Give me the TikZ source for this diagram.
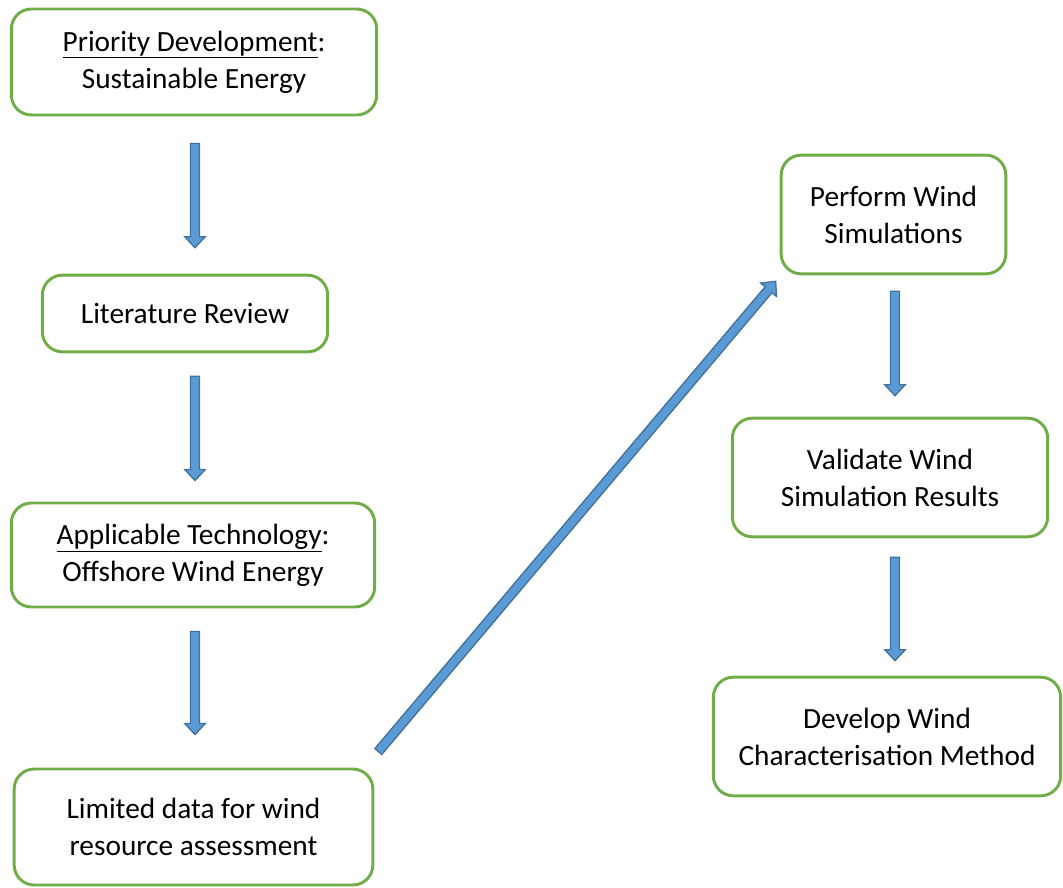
\documentclass[tikz,border=0pt]{standalone}
\usepackage{fontspec}
\setmainfont{Carlito}
\usetikzlibrary{calc}
\definecolor{boxgreen}{HTML}{70AD47}
\definecolor{arrowblue}{HTML}{5B9BD5}
\definecolor{arrowedge}{HTML}{41719C}
\newcommand\blockarrow[2]{% start, end
  \coordinate (h) at ($(#2)!8.25pt!(#1)$);
  \draw[flow] ($(#1)!3.4pt!90:(#2)$) -- ($(h)!3.4pt!90:(#2)$) -- ($(h)!7.7pt!90:(#2)$)
    -- (#2) -- ($(h)!7.7pt!-90:(#2)$) -- ($(h)!3.4pt!-90:(#2)$) -- ($(#1)!3.4pt!-90:(#2)$) -- cycle;
}
\tikzset{
  box/.style={draw=boxgreen, line width=2.2pt, rounded corners=15pt, align=center,
    inner sep=0pt, font=\fontsize{22}{27.75}\selectfont},
  flow/.style={draw=arrowedge, fill=arrowblue, line width=1pt, line join=miter}
}
\begin{document}
\begin{tikzpicture}[x=0.75pt,y=-0.75pt]
		\useasboundingbox (0,0) rectangle (1063,888);

		\node[box,minimum width=274pt,minimum height=79.5pt] (A) at (194,62) {\underline{Priority Development}:\\Sustainable Energy};
		\node[box,minimum width=214pt,minimum height=57.5pt] (B) at (185,313.5) {Literature Review};
		\node[box,minimum width=272.5pt,minimum height=78pt] (C) at (193,555) {\underline{Applicable Technology}:\\Offshore Wind Energy};
		\node[box,minimum width=269pt,minimum height=87pt] (D) at (193.5,827) {Limited data for wind\\resource assessment};
		\node[box,minimum width=168.5pt,minimum height=89pt] (E) at (893.5,214.5) {Perform Wind\\Simulations};
		\node[box,minimum width=236.5pt,minimum height=89pt] (F) at (890,477.5) {Validate Wind\\Simulation Results};
		\node[box,minimum width=260.5pt,minimum height=89pt] (G) at (887,736.5) {Develop Wind\\Characterisation Method};

		\coordinate (a1) at ($(A.south)+(1,27)$);
		\coordinate (a2) at ($(B.north)+(10,-26)$);
		\coordinate (b1) at ($(B.south)+(10,23)$);
		\coordinate (b2) at ($(C.north)+(2,-21)$);
		\coordinate (c1) at ($(C.south)+(2,23)$);
		\coordinate (c2) at ($(D.north)+(1.5,-33)$);
		\coordinate (d1) at ($(D.north east)+(4,-16)$);
		\coordinate (d2) at ($(E.south west)+(-4,6)$);
		\coordinate (e1) at ($(E.south)+(1.5,16)$);
		\coordinate (e2) at ($(F.north)+(5,-21)$);
		\coordinate (f1) at ($(F.south)+(5,19)$);
		\coordinate (f2) at ($(G.north)+(8,-15)$);

		\blockarrow{a1}{a2}
		\blockarrow{b1}{b2}
		\blockarrow{c1}{c2}
		\blockarrow{d1}{d2}
		\blockarrow{e1}{e2}
		\blockarrow{f1}{f2}
	\end{tikzpicture}
\end{document}
